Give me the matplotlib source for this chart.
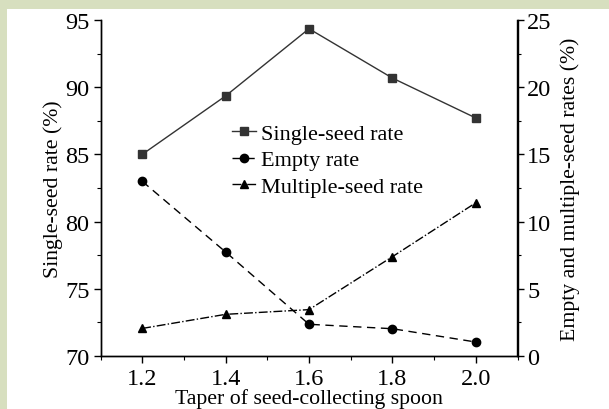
import matplotlib.pyplot as plt
from matplotlib.patches import Rectangle
from matplotlib.ticker import MultipleLocator

plt.rcParams['font.family'] = ['Liberation Serif', 'DejaVu Serif']

taper = [1.2, 1.4, 1.6, 1.8, 2.0]
single_seed = [85.0, 89.35, 94.35, 90.68, 87.71]
empty_rate = [13.0, 7.74, 2.36, 2.03, 1.04]
multiple_seed = [2.05, 3.1, 3.45, 7.39, 11.4]

fig = plt.figure(figsize=(6.09, 4.10), dpi=100, facecolor='#d7dfbf')
# white panel inside the green border
fig.patches.append(Rectangle((7 / 609, 0), 1, 1 - 9.5 / 410, transform=fig.transFigure,
                             facecolor='white', edgecolor='none', zorder=-10))

ax = fig.add_axes([100.5 / 609, 1 - 357 / 410, 417 / 609, 336 / 410])
ax.set_facecolor('none')
ax2 = ax.twinx()

l1, = ax.plot(taper, single_seed, '-', color='#333333', lw=1.0, marker='s', ms=5.5,
              label='Single-seed rate')
l2, = ax2.plot(taper, empty_rate, '--', color='black', lw=1.0, marker='o', ms=6,
               dashes=(6, 4), label='Empty rate')
l3, = ax2.plot(taper, multiple_seed, '-.', color='black', lw=1.0, marker='^', ms=6,
               label='Multiple-seed rate')

ax.set_xlim(1.1, 2.1)
ax.set_ylim(70, 95)
ax2.set_ylim(0, 25)
ax.set_xticks(taper)
ax.set_xticklabels(['1.2', '1.4', '1.6', '1.8', '2.0'])
ax.xaxis.set_minor_locator(MultipleLocator(0.1))
ax.yaxis.set_major_locator(MultipleLocator(5))
ax.yaxis.set_minor_locator(MultipleLocator(2.5))
ax2.yaxis.set_major_locator(MultipleLocator(5))
ax2.yaxis.set_minor_locator(MultipleLocator(2.5))

for a in (ax, ax2):
    a.spines['top'].set_visible(False)
    a.tick_params(which='major', direction='out', length=5, width=1, labelsize=17.5, pad=3)
    a.tick_params(which='minor', direction='out', length=3, width=0.8)
    for s in a.spines.values():
        s.set_linewidth(1.0)
ax.tick_params(axis='x', which='major', pad=4)
ax2.tick_params(axis='y', which='major', pad=2)

ax.set_xlabel('Taper of seed-collecting spoon', fontsize=15.7, labelpad=-1)
ax.set_ylabel('Single-seed rate (%)', fontsize=15.7, labelpad=1)
ax2.set_ylabel('Empty and multiple-seed rates (%)', fontsize=15.7, labelpad=6)

ax.legend([l1, l2, l3], ['Single-seed rate', 'Empty rate', 'Multiple-seed rate'],
          loc='upper left', bbox_to_anchor=(0.295, 0.72), frameon=False, fontsize=16,
          handlelength=1.05, handletextpad=0.25, labelspacing=0.28, borderaxespad=0)

fig.savefig('out.png', dpi=100, facecolor=fig.get_facecolor())
